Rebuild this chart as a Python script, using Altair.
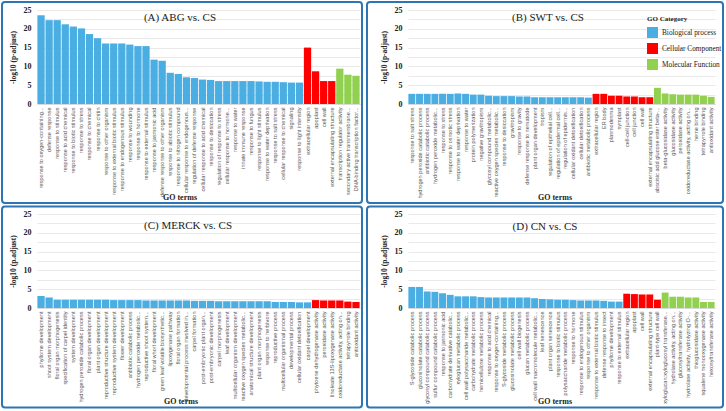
import altair as alt
import pandas as pd

BP, CC, MF = "Biological process", "Cellular Component", "Molecular Function"
CAT_DOMAIN = [BP, CC, MF]
CAT_COLORS = ["#4aaee3", "#ff0000", "#92d050"]
SERIF = "Liberation Serif"
SANS = "Liberation Sans"
Y_TICKS = [0, 2.5, 5, 7.5, 10, 12.5, 15, 17.5, 20, 22.5, 25]

# ---------------- (A) ABG vs. CS ----------------
A_TERMS = [
    "response to oxygen-containing...", "defense response", "response to stimulus",
    "response to acid chemical", "response to biotic stimulus", "response to stress",
    "response to chemical", "response to chitin", "response to other organism",
    "response to external biotic stimulus", "response to endogenous stimulus",
    "response to wounding", "response to hormone", "response to external stimulus",
    "response to jasmonic acid", "defense response to other organism",
    "response to abiotic stimulus", "response to nitrogen compound",
    "cellular response to endogenous...", "regulation of defense response",
    "cellular response to acid chemical", "response to desiccation",
    "regulation of response to stress", "cellular response to hormone...",
    "response to water", "innate immune response", "response to fungus",
    "response to light stimulus", "response to water deprivation",
    "response to salt stress", "cellular response to chemical", "signaling",
    "response to light intensity",
    "extracellular region", "apoplast", "cell wall", "external encapsulating structure",
    "transcription regulator activity", "secondary active transmembrane...",
    "DNA-binding transcription factor...",
]
A_VALUES = [23.6, 22.3, 22.3, 21.2, 20.6, 20.1, 18.6, 17.5, 16.1, 16.1, 16.1, 15.8,
            15.4, 15.4, 11.8, 11.5, 8.3, 8.0, 7.1, 6.9, 6.5, 6.4, 6.1, 6.1, 6.1, 6.1,
            6.1, 6.0, 5.9, 5.9, 5.8, 5.7, 5.7,
            15.0, 8.7, 6.1, 6.1,
            9.4, 7.8, 7.5]
A_CATS = [BP] * 33 + [CC] * 4 + [MF] * 3

# ---------------- (B) SWT vs. CS ----------------
B_TERMS = [
    "response to salt stress", "hydrogen peroxide catabolic process",
    "antibiotic catabolic process", "hydrogen peroxide metabolic...", "response to stress",
    "response to osmotic stress", "response to water deprivation", "response to water",
    "protein polymerization", "negative gravitropism", "glycosyl compound metabolic...",
    "reactive oxygen species metabolic...", "response to desiccation", "gravitropism",
    "response to gravity", "defense response to nematode", "plant organ development",
    "tropism", "regulation of epithelial cell...", "regulation of epidermal cell...",
    "regulation of epidermis...", "cellular oxidant detoxification",
    "cellular detoxification", "antibiotic metabolic process",
    "extracellular region", "ER body", "plasmodesma", "symplast", "cell-cell junction",
    "cell junction", "cell wall", "external encapsulating structure",
    "abscisic acid glucose ester beta-...", "beta-glucosidase activity",
    "glucosidase activity", "peroxidase activity", "oxidoreductase activity, acting on...",
    "heme binding", "tetrapyrrole binding", "antioxidant activity",
]
B_VALUES = [2.7, 2.7, 2.7, 2.7, 2.7, 2.7, 2.8, 2.7, 2.5, 2.5, 2.2, 2.1, 2.1, 2.1, 2.0,
            2.0, 1.8, 1.8, 1.8, 1.8, 1.8, 1.8, 1.8, 1.7,
            2.7, 2.7, 2.2, 2.2, 2.0, 2.0, 1.8, 1.8,
            4.3, 2.8, 2.6, 2.5, 2.5, 2.5, 2.2, 1.9]
B_CATS = [BP] * 24 + [CC] * 8 + [MF] * 8

# ---------------- (C) MERCK vs. CS ----------------
C_TERMS = [
    "phyllome development", "shoot system development", "floral organ morphogenesis",
    "specification of carpel identity", "system development",
    "hydrogen peroxide catabolic process", "floral organ development",
    "plant organ development", "reproductive structure development",
    "reproductive system development", "flower development",
    "antibiotic catabolic process", "hydrogen peroxide metabolic...",
    "reproductive shoot system...", "floral whorl development",
    "green leaf volatile biosynthetic...", "lipoxygenase pathway",
    "floral organ formation", "developmental process involved in...",
    "carpel formation", "post-embryonic plant organ...", "post-embryonic development",
    "carpel morphogenesis", "leaf development", "multicellular organism development",
    "reactive oxygen species metabolic...", "anatomical structure development",
    "plant organ morphogenesis", "response to herbivore", "reproductive process",
    "multicellular organismal process", "developmental process",
    "cellular oxidant detoxification", "carpel development",
    "phytoene dehydrogenase activity", "peroxidase activity",
    "linoleate 13S-lipoxygenase activity", "oxidoreductase activity, acting on...",
    "tetrapyrrole binding", "antioxidant activity",
]
C_VALUES = [3.2, 2.8, 2.2, 2.2, 2.2, 2.2, 2.2, 2.2, 2.2, 2.1, 2.1, 2.1, 2.1, 2.0, 2.0,
            2.0, 2.0, 2.0, 2.0, 1.9, 1.9, 1.9, 1.8, 1.8, 1.8, 1.8, 1.8, 1.8, 1.8, 1.6,
            1.6, 1.6, 1.5, 1.5,
            2.1, 2.0, 2.0, 2.0, 1.7, 1.6]
# the last six bars are drawn red in the reference
C_CATS = [BP] * 34 + [CC] * 6

# ---------------- (D) CN vs. CS ----------------
D_TERMS = [
    "S-glycoside catabolic process", "glucosinolate catabolic process",
    "glycosyl compound catabolic process", "sulfur compound catabolic process",
    "response to jasmonic acid", "carbohydrate derivative catabolic...",
    "xyloglucan metabolic process", "cell wall polysaccharide metabolic...",
    "carbohydrate metabolic process", "hemicellulose metabolic process",
    "response to acid chemical", "response to oxygen-containing...",
    "S-glycoside metabolic process", "glucosinolate metabolic process",
    "cell wall biogenesis", "glucan metabolic process",
    "cell wall macromolecule metabolic...", "leaf senescence", "plant organ senescence",
    "response to biotic stimulus", "polysaccharide metabolic process",
    "response to hormone", "response to endogenous stimulus",
    "response to other organism", "response to external biotic stimulus",
    "defense response to insect", "phyllome development", "response to external stimulus",
    "extracellular region", "apoplast", "cell wall", "external encapsulating structure",
    "plant-type cell wall",
    "xyloglucan:xyloglucosyl transferase...", "hydrolase activity, acting on...",
    "glucosyltransferase activity", "hydrolase activity, hydrolyzing O-...",
    "thioglucosidase activity", "squalene monooxygenase activity",
    "hexosyltransferase activity",
]
D_VALUES = [5.6, 5.6, 4.4, 4.3, 3.9, 3.5, 3.1, 3.1, 3.1, 2.9, 2.8, 2.8, 2.8, 2.8, 2.8,
            2.8, 2.6, 2.4, 2.3, 2.2, 2.2, 2.1, 2.0, 2.0, 2.0, 1.9, 1.7, 1.7,
            3.8, 3.7, 3.6, 3.6, 2.2,
            4.1, 3.0, 3.0, 2.8, 2.8, 1.6, 1.6]
D_CATS = [BP] * 28 + [CC] * 5 + [MF] * 7

PANEL_H = 94


def one_row(text):
    return pd.DataFrame({"t": [text]})


def panel(terms, values, cats, width, title, title_pos, ytitle, xtitle_x, border, legend=False):
    df = pd.DataFrame({"term": terms, "value": values, "category": cats})
    if legend:
        leg = alt.Legend(
            orient="none", legendX=239, legendY=5, title="GO Category",
            titleFont=SERIF, titleFontSize=7, titleFontWeight="bold", titleColor="#222222",
            titlePadding=5, labelFont=SERIF, labelFontSize=7.3, labelColor="#222222",
            symbolType="square", symbolSize=121, symbolStrokeWidth=0, symbolOpacity=1,
            rowPadding=5, labelOffset=4, padding=0,
        )
    else:
        leg = None
    bars = alt.Chart(df).mark_bar().encode(
        x=alt.X("term:N", sort=None,
                scale=alt.Scale(paddingInner=0.1, paddingOuter=0.05),
                axis=alt.Axis(title=None, labelAngle=270, labelFont=SANS, labelFontSize=5.6,
                              labelColor="#595959", labelPadding=3, labelLimit=200,
                              ticks=False, domain=True, domainColor="#d9d9d9")),
        y=alt.Y("value:Q", scale=alt.Scale(domain=[0, 25], nice=False),
                axis=alt.Axis(title=ytitle, values=Y_TICKS,
                              labelExpr="datum.value % 5 === 0 ? datum.label : ''",
                              labelFont=SERIF, labelFontSize=8, labelFontWeight="bold",
                              labelColor="#222222", labelPadding=6, ticks=False, domain=False,
                              gridColor="#e3e3e3", gridWidth=0.8,
                              titleFont=SERIF, titleFontSize=7.5, titleFontWeight="bold",
                              titleColor="#222222", titlePadding=6)),
        color=alt.Color("category:N",
                        scale=alt.Scale(domain=CAT_DOMAIN, range=CAT_COLORS),
                        legend=leg),
    )
    ttl = alt.Chart(one_row(title)).mark_text(
        font=SERIF, fontSize=11, color="#222222", baseline="middle", align="center"
    ).encode(text="t:N", x=alt.value(title_pos[0]), y=alt.value(title_pos[1]))
    xt = alt.Chart(one_row("GO terms")).mark_text(
        font=SERIF, fontSize=8, fontWeight="bold", color="#222222",
        baseline="middle", align="center"
    ).encode(text="t:N", x=alt.value(xtitle_x), y=alt.value(PANEL_H + 94))
    box = alt.Chart(one_row("box")).mark_rect(
        fill="transparent", stroke="#2e75b6", strokeWidth=2, cornerRadius=3
    ).encode(x=alt.value(border[0]), x2=alt.value(border[1]),
             y=alt.value(border[2]), y2=alt.value(border[3]))
    return alt.layer(bars, ttl, xt, box).properties(width=width, height=PANEL_H)


pA = panel(A_TERMS, A_VALUES, A_CATS, 323, "(A) ABG vs. CS", (143, 8),
           "-log10 (p-adjust)", 143, (-35, 325, -8, PANEL_H + 99))
pB = panel(B_TERMS, B_VALUES, B_CATS, 307, "(B) SWT vs. CS", (140, 8),
           "-log10 (p-adjust)", 147, (-41, 315, -8, PANEL_H + 99), legend=True)
pC = panel(C_TERMS, C_VALUES, C_CATS, 323, "(C) MERCK vs. CS", (151, 12),
           "-log10 (p.adjust)", 144, (-35, 325, -7.5, PANEL_H + 99.5))
pD = panel(D_TERMS, D_VALUES, D_CATS, 307, "(D) CN vs. CS", (137, 13),
           "-log10 (p.adjust)", 147, (-41, 315, -7.5, PANEL_H + 99.5))

chart = (
    alt.concat(pA, pB, pC, pD, columns=2, spacing={"row": 110, "column": 48}, bounds="flush")
    .resolve_scale(color="independent")
    .properties(padding={"left": 1, "top": 1, "right": 1, "bottom": 1}, background="white")
    .configure_view(strokeWidth=0)
)

chart.save("out.html", embed_options={"renderer": "svg", "actions": False})
